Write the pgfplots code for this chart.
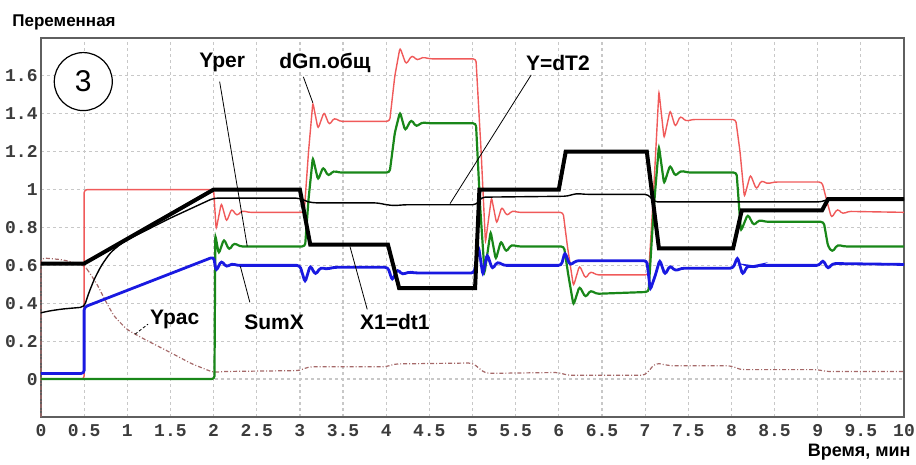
\documentclass[border=0pt]{standalone}
\usepackage{fontspec}
\setmainfont{Liberation Sans}
\newfontfamily\tickfont{Liberation Mono}
\usepackage{pgfplots}
\pgfplotsset{compat=1.18}

\definecolor{cred}{RGB}{240,90,90}
\definecolor{cgreen}{RGB}{25,135,25}
\definecolor{cblue}{RGB}{25,25,225}
\definecolor{cbrown}{RGB}{165,105,105}
\definecolor{cgrid}{RGB}{200,200,200}
\definecolor{cframe}{RGB}{95,95,95}
\definecolor{ctick}{RGB}{60,60,60}

\begin{document}
\begin{tikzpicture}
\path[use as bounding box] (-20.5pt,-24pt) rectangle (437.5pt,208.5pt);
\begin{axis}[
  at={(0,0)}, anchor=south west,
  scale only axis,
  width=431.5pt, height=189.5pt,
  xmin=0, xmax=10, ymin=-0.2, ymax=1.8,
  xtick={0,0.5,1,1.5,2,2.5,3,3.5,4,4.5,5,5.5,6,6.5,7,7.5,8,8.5,9,9.5,10},
  ytick={0,0.2,0.4,0.6,0.8,1,1.2,1.4,1.6},
  major tick length=0pt,
  grid=major,
  major grid style={cgrid, line width=0.6pt, dash pattern=on 1.5pt off 1.5pt},
  axis line style={cframe, line width=0.7pt},
  /pgf/number format/assume math mode=true,
  ticklabel style={font=\tickfont\bfseries\fontsize{9}{9}\selectfont, text=ctick},
  xticklabel style={anchor=north, inner sep=0pt, yshift=-3.5pt},
  yticklabel style={anchor=east, inner sep=0pt, xshift=-1.5pt},
  clip=false,
]
% Ypac
\addplot[cbrown, line width=0.6pt, rounded corners=2pt, dash pattern=on 2pt off 1pt on 0.5pt off 1pt] coordinates {
(0,-0.2)(0,0.64)(0.25,0.63)(0.5,0.6)(0.55,0.57)(0.65,0.5)(0.75,0.41)(0.85,0.33)(1.0,0.26)(1.2,0.21)(1.5,0.14)(1.75,0.08)(2.0,0.035)(2.1,0.04)(3.0,0.045)(3.1,0.065)(4.0,0.065)(4.1,0.08)(5.0,0.085)(5.15,0.03)(6.0,0.035)(6.1,0.02)(7.0,0.02)(7.12,0.085)(7.3,0.07)(8.0,0.07)(8.1,0.05)(9.0,0.05)(9.1,0.04)(10,0.04)
};
% red
\addplot[cred, line width=0.7pt, rounded corners=1.5pt] coordinates {
(0,0)(0.5,0)(0.5,1)(2.0,1)(2.03,0.79)(2.09,0.93)(2.15,0.83)(2.21,0.9)(2.27,0.86)(2.33,0.89)(2.4,0.88)(3.05,0.88)(3.1,1.2)(3.15,1.46)(3.21,1.32)(3.28,1.41)(3.34,1.34)(3.4,1.38)(3.46,1.36)(4.04,1.36)(4.1,1.6)(4.16,1.75)(4.23,1.66)(4.3,1.71)(4.36,1.68)(4.42,1.7)(4.5,1.69)(5.04,1.69)(5.1,1.2)(5.15,0.72)(5.22,0.96)(5.28,0.82)(5.34,0.91)(5.4,0.86)(5.46,0.89)(5.52,0.88)(6.05,0.88)(6.1,0.7)(6.17,0.49)(6.24,0.6)(6.31,0.53)(6.37,0.57)(6.43,0.55)(7.04,0.55)(7.1,1.0)(7.16,1.52)(7.22,1.27)(7.29,1.42)(7.35,1.33)(7.41,1.39)(7.47,1.36)(7.55,1.37)(8.05,1.37)(8.1,1.2)(8.15,0.96)(8.22,1.08)(8.29,1.0)(8.35,1.05)(8.41,1.03)(8.5,1.04)(9.05,1.04)(9.1,0.95)(9.16,0.85)(9.23,0.9)(9.29,0.87)(9.35,0.885)(10,0.88)
};
% green
\addplot[cgreen, line width=1.1pt, rounded corners=1.5pt] coordinates {
(0,0)(2.01,0)(2.02,0.76)(2.06,0.66)(2.12,0.74)(2.18,0.68)(2.24,0.72)(2.3,0.7)(3.06,0.7)(3.1,0.95)(3.15,1.17)(3.21,1.05)(3.27,1.12)(3.33,1.07)(3.39,1.1)(3.45,1.09)(4.04,1.09)(4.1,1.3)(4.16,1.41)(4.22,1.31)(4.29,1.37)(4.35,1.33)(4.41,1.355)(4.5,1.35)(5.04,1.35)(5.09,0.9)(5.14,0.56)(5.21,0.78)(5.27,0.63)(5.33,0.73)(5.39,0.67)(5.45,0.71)(5.52,0.7)(6.06,0.7)(6.11,0.55)(6.17,0.39)(6.24,0.49)(6.31,0.43)(6.37,0.47)(6.43,0.45)(7.04,0.46)(7.1,0.9)(7.16,1.23)(7.22,1.03)(7.29,1.13)(7.35,1.07)(7.41,1.1)(7.5,1.09)(8.06,1.09)(8.11,0.78)(8.19,0.87)(8.26,0.81)(8.32,0.84)(8.4,0.83)(9.07,0.83)(9.12,0.7)(9.17,0.67)(9.23,0.71)(9.3,0.7)(10,0.7)
};
% blue
\addplot[cblue, line width=1.4pt, rounded corners=1.5pt] coordinates {
(0,0.03)(0.5,0.03)(0.5,0.38)(2.0,0.645)(2.03,0.57)(2.09,0.625)(2.15,0.59)(2.21,0.61)(2.27,0.6)(3.0,0.6)(3.06,0.51)(3.12,0.6)(3.18,0.55)(3.24,0.59)(3.3,0.58)(3.4,0.59)(4.02,0.59)(4.07,0.52)(4.13,0.58)(4.19,0.55)(4.25,0.565)(4.35,0.56)(5.02,0.56)(5.07,0.7)(5.12,0.55)(5.17,0.66)(5.23,0.58)(5.29,0.62)(5.36,0.6)(6.03,0.6)(6.07,0.67)(6.13,0.6)(6.2,0.625)(7.02,0.625)(7.06,0.47)(7.12,0.55)(7.17,0.63)(7.23,0.55)(7.29,0.6)(7.35,0.57)(7.42,0.585)(8.02,0.585)(8.07,0.645)(8.13,0.55)(8.19,0.6)(8.25,0.59)(8.3,0.6)(9.02,0.6)(9.06,0.63)(9.12,0.58)(9.17,0.61)(10,0.605)
};
% thin black
\addplot[black, line width=0.7pt, rounded corners=2pt] coordinates {
(0,0.35)(0.1,0.36)(0.25,0.37)(0.5,0.38)(0.55,0.45)(0.62,0.53)(0.7,0.6)(0.8,0.665)(0.9,0.705)(1.0,0.735)(1.5,0.85)(2.0,0.955)(3.0,0.955)(3.06,0.94)(3.15,0.93)(3.9,0.93)(4.0,0.92)(4.1,0.915)(4.2,0.92)(5.05,0.92)(5.1,0.96)(6.1,0.965)(6.2,0.98)(6.3,0.975)(7.04,0.975)(7.1,0.935)(9.05,0.935)(9.12,0.95)(10,0.95)
};
% thick black
\addplot[black, line width=2pt] coordinates {
(0,0.61)(0.5,0.61)(2.0,1.0)(3.0,1.0)(3.12,0.71)(4.02,0.71)(4.15,0.48)(5.03,0.48)(5.08,1.0)(6.0,1.0)(6.08,1.2)(7.02,1.2)(7.16,0.69)(8.02,0.69)(8.12,0.89)(9.05,0.89)(9.12,0.95)(10,0.95)
};

% labels and leaders
\tikzset{lab/.style={font=\bfseries\fontsize{10.5}{10.5}\selectfont, inner sep=0pt}}
\node[lab] at (axis cs:2.10,1.67) {Yper};
\node[lab] at (axis cs:3.29,1.67) {dGп.общ};
\node[lab] at (axis cs:5.99,1.67) {Y=dT2};
\node[lab] at (axis cs:1.55,0.316) {Ypac};
\node[lab] at (axis cs:2.70,0.30) {SumX};
\node[lab] at (axis cs:4.10,0.30) {X1=dt1};
\draw[line width=0.4pt] (axis cs:2.07,1.57) -- (axis cs:2.39,0.70);
\draw[line width=0.4pt] (axis cs:3.04,1.595) -- (axis cs:3.15,1.458);
\draw[line width=0.4pt] (axis cs:5.68,1.605) -- (axis cs:4.74,0.926);
\draw[line width=0.4pt] (axis cs:2.31,0.595) -- (axis cs:2.42,0.405);
\draw[line width=0.4pt] (axis cs:3.58,0.70) -- (axis cs:3.78,0.368);
\draw[line width=0.4pt, dash pattern=on 1.5pt off 1pt] (axis cs:1.09,0.237) -- (axis cs:1.24,0.29);
\draw[line width=0.6pt, fill=white] (axis cs:0.49,1.57) circle[radius=14.5pt];
\node[font=\fontsize{15}{15}\selectfont] at (axis cs:0.49,1.57) {3};
\end{axis}
\node[anchor=west, inner sep=0pt, font=\bfseries\fontsize{8.5}{8.5}\selectfont] at (-14.5pt,197.5pt) {Переменная};
\node[anchor=east, inner sep=0pt, font=\bfseries\fontsize{9}{9}\selectfont] at (435pt,-17.5pt) {Время, мин};
\end{tikzpicture}
\end{document}
